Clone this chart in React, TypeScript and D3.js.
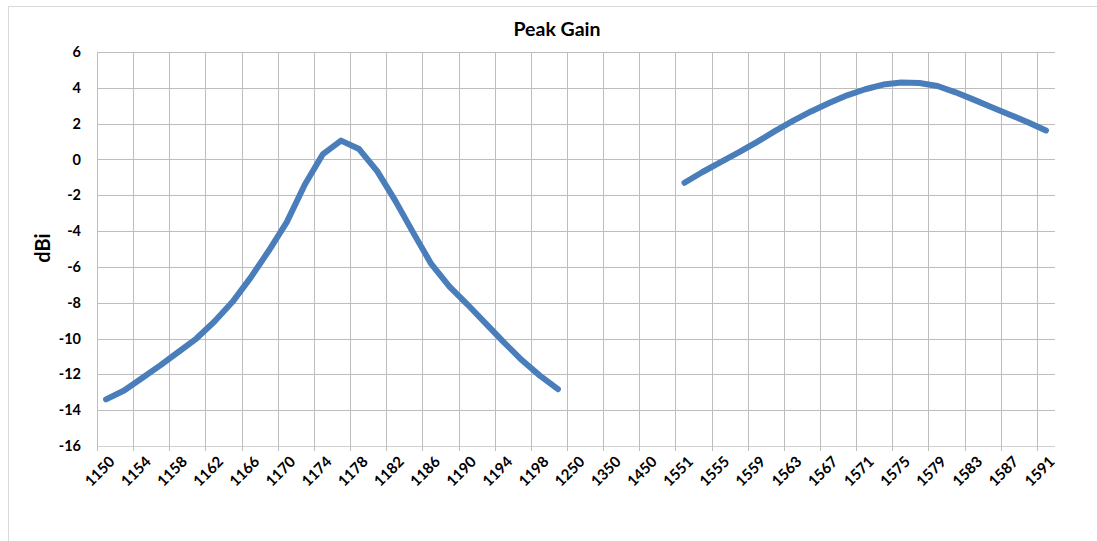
import React from "react";
import * as d3 from "d3";

// L5 band, 2 MHz steps
const lowFreq = [
  "1150", "1152", "1154", "1156", "1158", "1160", "1162", "1164", "1166",
  "1168", "1170", "1172", "1174", "1176", "1178", "1180", "1182", "1184",
  "1186", "1188", "1190", "1192", "1194", "1196", "1198", "1200",
];
const lowGain = [
  -13.4, -12.9, -12.2, -11.5, -10.75, -10.0, -9.05, -7.95, -6.6, -5.1, -3.5,
  -1.4, 0.3, 1.05, 0.58, -0.65, -2.3, -4.1, -5.85, -7.1, -8.1, -9.15, -10.2,
  -11.2, -12.07, -12.83,
];
// empty categories between the two bands
const gapFreq = ["1250", "1300", "1350", "1400", "1450", "1500"];
// L1 band
const highFreq = [
  "1551", "1553", "1555", "1557", "1559", "1561", "1563", "1565", "1567",
  "1569", "1571", "1573", "1575", "1577", "1579", "1581", "1583", "1585",
  "1587", "1589", "1591",
];
const highGain = [
  -1.3, -0.7, -0.15, 0.39, 0.97, 1.58, 2.15, 2.68, 3.15, 3.58, 3.92, 4.18, 4.3,
  4.27, 4.1, 3.75, 3.34, 2.92, 2.5, 2.08, 1.62,
];
const yTicks = [6, 4, 2, 0, -2, -4, -6, -8, -10, -12, -14, -16];

const W = 1097,
  H = 541;
const left = 97,
  right = 1055,
  top = 52,
  bottom = 446;
const font = "Lato, 'Open Sans', sans-serif";

const App = () => {
  const ref = React.useRef<SVGSVGElement>(null);

  React.useEffect(() => {
    const svg = d3.select(ref.current);
    svg.selectAll("*").remove();

    const cats = [...lowFreq, ...gapFreq, ...highFreq];
    const values: (number | null)[] = [
      ...lowGain,
      ...gapFreq.map(() => null),
      ...highGain,
    ];
    const data = cats.map((c, i) => ({ cat: c, v: values[i] }));

    const x = d3.scaleBand().domain(cats).range([left, right]).padding(0);
    const y = d3.scaleLinear().domain([-16, 6]).range([bottom, top]);
    const bw = x.step();

    // chart area border
    svg
      .append("rect")
      .attr("x", 8.5)
      .attr("y", 6.5)
      .attr("width", 1100)
      .attr("height", 560)
      .attr("fill", "white")
      .attr("stroke", "#d9d9d9");

    // horizontal gridlines
    svg
      .append("g")
      .selectAll("line")
      .data(yTicks)
      .join("line")
      .attr("x1", left)
      .attr("x2", right)
      .attr("y1", (d) => Math.round(y(d)) + 0.5)
      .attr("y2", (d) => Math.round(y(d)) + 0.5)
      .attr("stroke", (d) => (d === -16 ? "#d0d0d0" : "#bdbdbd"));

    // vertical gridlines every 2 categories
    const vIdx = d3.range(0, cats.length, 2);
    svg
      .append("g")
      .selectAll("line")
      .data(vIdx)
      .join("line")
      .attr("x1", (i) => Math.round(left + i * bw) + 0.5)
      .attr("x2", (i) => Math.round(left + i * bw) + 0.5)
      .attr("y1", top)
      .attr("y2", bottom + 5)
      .attr("stroke", "#bdbdbd");

    // y tick labels
    svg
      .append("g")
      .selectAll("text")
      .data(yTicks)
      .join("text")
      .attr("x", 81)
      .attr("y", (d) => y(d))
      .attr("dy", "0.35em")
      .attr("text-anchor", "end")
      .attr("font-family", font)
      .attr("font-weight", "bold")
      .attr("font-size", 14.5)
      .attr("fill", "#000")
      .text((d) => d);

    // x tick labels, rotated
    svg
      .append("g")
      .selectAll("text")
      .data(cats.filter((_, i) => i % 2 === 0))
      .join("text")
      .attr(
        "transform",
        (d) => `translate(${(x(d) as number) + bw / 2 + 6},${bottom + 13}) rotate(-45)`
      )
      .attr("text-anchor", "end")
      .attr("dy", "0.35em")
      .attr("font-family", font)
      .attr("font-weight", "bold")
      .attr("font-size", 15)
      .attr("fill", "#000")
      .text((d) => d);

    // line
    const line = d3
      .line<{ cat: string; v: number | null }>()
      .defined((d) => d.v !== null)
      .x((d) => (x(d.cat) as number) + bw / 2)
      .y((d) => y(d.v as number));

    svg
      .append("path")
      .datum(data)
      .attr("d", line)
      .attr("fill", "none")
      .attr("stroke", "#4a7ebb")
      .attr("stroke-width", 6)
      .attr("stroke-linecap", "round")
      .attr("stroke-linejoin", "round");

    // title
    svg
      .append("text")
      .attr("x", 557)
      .attr("y", 36)
      .attr("text-anchor", "middle")
      .attr("font-family", font)
      .attr("font-weight", "bold")
      .attr("font-size", 19.5)
      .text("Peak Gain");

    // y axis title
    svg
      .append("text")
      .attr("transform", `translate(50,248) rotate(-90)`)
      .attr("text-anchor", "middle")
      .attr("font-family", font)
      .attr("font-weight", "bold")
      .attr("font-size", 20)
      .text("dBi");
  }, []);

  return (
    <svg
      ref={ref}
      width={W}
      height={H}
      style={{ position: "absolute", left: 0, top: 0, background: "white" }}
    />
  );
};

export default App;
